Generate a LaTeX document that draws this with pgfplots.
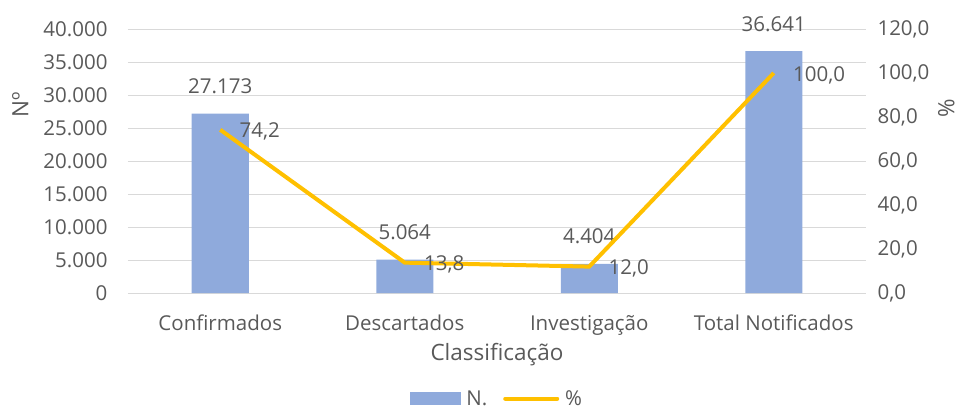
\documentclass[border=0pt]{standalone}
\usepackage{fontspec}
\setmainfont{Open Sans}
\usepackage{pgfplots}
\pgfplotsset{compat=1.18}
\definecolor{barblue}{HTML}{8FAADC}
\definecolor{linegold}{HTML}{FFC000}
\definecolor{txt}{HTML}{595959}
\definecolor{gridc}{HTML}{D9D9D9}
\newcommand{\tf}{\fontsize{20.5}{24}\selectfont}
\newcommand{\lf}{\fontsize{22.5}{26}\selectfont}
\begin{document}
\begin{tikzpicture}[font=\tf, text=txt]
\useasboundingbox (-128pt,-117pt) rectangle (837pt,293pt);
\begin{axis}[
  at={(0pt,0pt)}, anchor=south west, scale only axis,
  width=738pt, height=264pt,
  xmin=-0.5, xmax=3.5, ymin=0, ymax=40000,
  xtick={0,1,2,3},
  xticklabels={Confirmados,Descartados,Investigação,Total Notificados},
  ytick={0,5000,...,40000},
  scaled y ticks=false,
  ymajorgrids, major grid style={gridc, line width=1pt},
  axis line style={draw=none}, major tick length=0pt,
  /pgf/number format/assume math mode=true,
  /pgf/number format/1000 sep={.},
  yticklabel style={xshift=-17pt, font=\tf},
  xticklabel style={anchor=base, yshift=-37pt, font=\tf},
  xlabel={Classificação},
  xlabel style={at={(axis description cs:0.5,-0.255)}, anchor=base, font=\lf},
  ylabel={Nº},
  ylabel style={at={(axis description cs:-0.146,0.712)}, anchor=center, font=\lf},
]
\addplot[ybar, bar width=57pt, fill=barblue, draw=none,
  nodes near coords,
  every node near coord/.append style={anchor=base, yshift=20pt, text=txt, font=\tf}]
  coordinates {(0,27173) (1,5064) (2,4404) (3,36641)};
\end{axis}
\begin{axis}[
  at={(0pt,0pt)}, anchor=south west, scale only axis,
  width=738pt, height=264pt,
  xmin=-0.5, xmax=3.5, ymin=0, ymax=120,
  axis x line=none, axis y line*=right,
  axis line style={draw=none}, major tick length=0pt,
  ytick={0,20,...,120},
  /pgf/number format/assume math mode=true,
  /pgf/number format/fixed, /pgf/number format/fixed zerofill,
  /pgf/number format/precision=1, /pgf/number format/use comma,
  yticklabel style={anchor=west, xshift=8pt, font=\tf},
  ylabel={\%},
  ylabel style={at={(axis description cs:1.109,0.70)}, anchor=center, font=\lf},
  legend style={draw=none, fill=none, legend columns=2, at={(axis description cs:0.50,-0.40)}, anchor=center,
    font=\tf,
    /tikz/every odd column/.append style={column sep=4pt},
    /tikz/every even column/.append style={column sep=14pt}},
]
\addlegendimage{legend image code/.code={\fill[barblue] (0pt,-6pt) rectangle (50pt,6pt);}}
\addlegendentry{N.}
\addplot[linegold, line width=4pt, mark=none,
  legend image code/.code={\draw[linegold, line width=4pt, line cap=round] (0pt,0pt) -- (52pt,0pt);},
  nodes near coords,
  every node near coord/.append style={anchor=west, xshift=14pt, yshift=-2pt, text=txt, font=\tf}]
  coordinates {(0,74.2) (1,13.8) (2,12.0) (3,100.0)};
\addlegendentry{\%}
\end{axis}
\end{tikzpicture}
\end{document}
